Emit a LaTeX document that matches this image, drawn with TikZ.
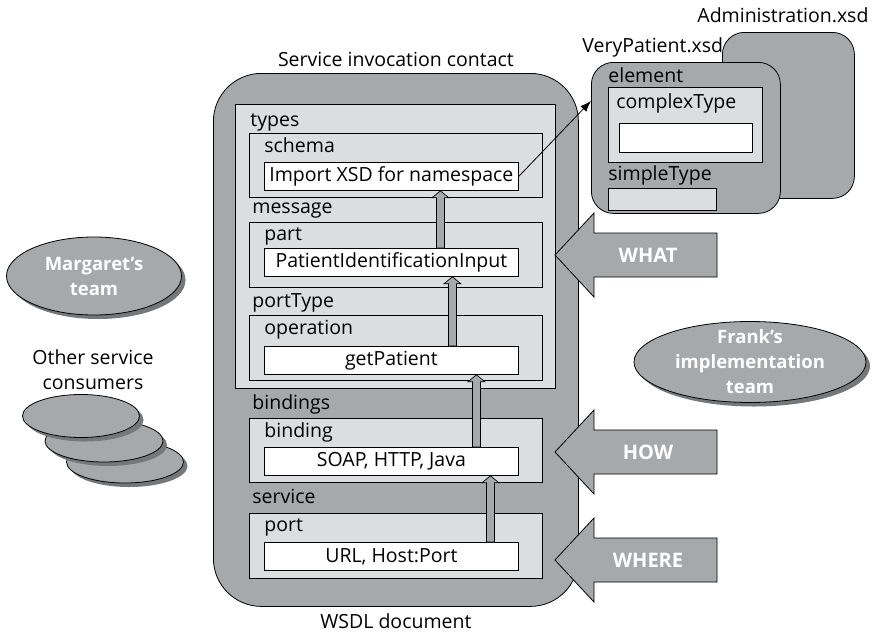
\documentclass[tikz,border=0pt]{standalone}
\usepackage{fontspec}
\setmainfont{Open Sans}
\usetikzlibrary{positioning,shapes.geometric,shadows,calc,arrows.meta}

\definecolor{wsdlgray}{RGB}{167,168,170}
\definecolor{panelgray}{RGB}{220,221,223}
\definecolor{shadegray}{RGB}{118,119,121}

% fat grey arrow going straight up from #1 to #2
\newcommand{\liftarrow}[2]{%
  \path[lift] let \p1=(#1), \p2=(#2) in
    (\x1-4pt,\y1) -- (\x1-4pt,\y2-7pt) -- (\x1-8.5pt,\y2-7pt) -- (\x1,\y2)
    -- (\x1+8.5pt,\y2-7pt) -- (\x1+4pt,\y2-7pt) -- (\x1+4pt,\y1) -- cycle;}

\begin{document}
\begin{tikzpicture}[x=1pt, y=-1pt, font=\fontsize{19.5}{23}\selectfont, line width=0.8pt,
  box/.style={draw, rectangle, anchor=north west, inner sep=0pt},
  panel/.style={box, fill=panelgray},
  slot/.style={box, fill=white, minimum width=254pt, minimum height=28pt},
  tag/.style={inner sep=0pt},
  lift/.style={draw, fill=wsdlgray, line width=0.7pt},
  team/.style={ellipse, draw, fill=wsdlgray, inner sep=0pt,
    drop shadow={shadow xshift=4pt, shadow yshift=-4pt, fill=shadegray, opacity=1}},
  teamtext/.style={align=center, text=white, font=\fontsize{18.5}{25}\selectfont\bfseries},
  bigarrow/.style={draw, fill=wsdlgray},
  bigtext/.style={text=white, font=\fontsize{20}{23}\selectfont\bfseries}]

\useasboundingbox (0,0) rectangle (875,632);

% the WSDL document
\node[box, fill=wsdlgray, rounded corners=48pt, minimum width=365pt, minimum height=533pt] (wsdl) at (213,73) {};
\node[tag, above=7pt of wsdl, anchor=base] (contract) {Service invocation contact};
\node[tag, below=22pt of wsdl, anchor=base] (wsdllbl) {WSDL document};

\node[panel, minimum width=320pt, minimum height=284pt] (types) at (235,104) {};
\node[panel, minimum width=293pt, minimum height=64pt] (schema) at (249,133) {};
\node[panel, minimum width=293pt, minimum height=65pt] (part) at (249,222) {};
\node[panel, minimum width=293pt, minimum height=65pt] (operation) at (249,315) {};
\node[panel, minimum width=293pt, minimum height=64pt] (binding) at (249,418) {};
\node[panel, minimum width=293pt, minimum height=65pt] (port) at (249,513) {};

\node[slot] (import) at (264,162) {Import XSD for namespace};
\node[slot] (patient) at (264,248) {PatientIdentificationInput};
\node[slot] (getpatient) at (264,346) {getPatient};
\node[slot] (soap) at (264,447) {SOAP, HTTP, Java};
\node[slot] (url) at (264,542) {URL, Host:Port};

\node[tag, above right=7pt and 1pt of schema.north west, anchor=base west] (typeslbl) {types};
\node[tag, above right=9pt and 3pt of part.north west, anchor=base west] (messagelbl) {message};
\node[tag, above right=8pt and 3pt of operation.north west, anchor=base west] (porttypelbl) {portType};
\node[tag, above right=9pt and 3pt of binding.north west, anchor=base west] (bindingslbl) {bindings};
\node[tag, above right=10pt and 3pt of port.north west, anchor=base west] (servicelbl) {service};

\node[tag, below right=19pt and 15pt of schema.north west, anchor=base west] (schemalbl) {schema};
\node[tag, below right=18pt and 15pt of part.north west, anchor=base west] (partlbl) {part};
\node[tag, below right=19pt and 15pt of operation.north west, anchor=base west] (operationlbl) {operation};
\node[tag, below right=19pt and 15pt of binding.north west, anchor=base west] (bindinglbl) {binding};
\node[tag, below right=18pt and 15pt of port.north west, anchor=base west] (portlbl) {port};

\liftarrow{[xshift=49pt]patient.north}{[xshift=49pt]import.south}
\liftarrow{[xshift=61pt]getpatient.north}{[xshift=61pt]patient.south}
\liftarrow{[xshift=85pt]soap.north}{[xshift=85pt]getpatient.south}
\liftarrow{[xshift=99pt]url.north}{[xshift=99pt]soap.south}

% the schema files
\node[box, fill=wsdlgray, rounded corners=22pt, minimum width=132pt, minimum height=166pt] (admin) at (722,32) {};
\node[tag, above right=10pt and -25pt of admin.north west, anchor=base west] (adminlbl) {Administration.xsd};
\node[box, fill=wsdlgray, rounded corners=22pt, minimum width=189pt, minimum height=151pt] (vp) at (591,62) {};
\node[tag, above right=10pt and -9pt of vp.north west, anchor=base west] (vplbl) {VeryPatient.xsd};
\node[panel, minimum width=154pt, minimum height=75pt] (complex) at (608,87) {};
\node[box, fill=white, minimum width=133pt, minimum height=29pt] (complexslot) at (619,123) {};
\node[panel, minimum width=108pt, minimum height=22pt] (simple) at (608,188) {};
\node[tag, above right=5pt and 0pt of complex.north west, anchor=base west] (elementlbl) {element};
\node[tag, below right=21pt and 8pt of complex.north west, anchor=base west] (complexlbl) {complexType};
\node[tag, above right=8pt and 0pt of simple.north west, anchor=base west] (simplelbl) {simpleType};

\draw[-{Latex[length=11pt,width=8pt]}] (import.east) -- ([yshift=37pt]vp.west);

% what / how / where
\draw[bigarrow] (555,255) coordinate (whattip) -- ++(39,-42) -- ++(0,20) -- ++(123,0)
  -- ++(0,44) -- ++(-123,0) -- ++(0,20) -- cycle;
\node[bigtext] (what) at ([xshift=93pt]whattip) {WHAT};
\draw[bigarrow] (555,452) coordinate (howtip) -- ++(39,-42) -- ++(0,20) -- ++(123,0)
  -- ++(0,44) -- ++(-123,0) -- ++(0,20) -- cycle;
\node[bigtext] (how) at ([xshift=93pt]howtip) {HOW};
\draw[bigarrow] (555,560) coordinate (wheretip) -- ++(39,-42) -- ++(0,20) -- ++(123,0)
  -- ++(0,44) -- ++(-123,0) -- ++(0,20) -- cycle;
\node[bigtext] (where) at ([xshift=93pt]wheretip) {WHERE};

% the teams
\node[team, minimum width=232pt, minimum height=81pt] (frank) at (750,362) {};
\node[teamtext] (franklbl) at (frank) {Frank's\\implementation\\team};
\node[team, minimum width=175pt, minimum height=78pt] (margaret) at (94,276) {};
\node[teamtext] (margaretlbl) at (margaret) {Margaret's\\team};

\node[team, minimum width=117pt, minimum height=42pt] (consumerC) at (125,462) {};
\node[team, minimum width=118pt, minimum height=42pt] (consumerB) at (104,441) {};
\node[team, minimum width=117pt, minimum height=43pt] (consumerA) at (81,416) {};
\node[align=center, font=\fontsize{19.5}{25}\selectfont] (consumers) at (93,370) {Other service\\consumers};

\end{tikzpicture}
\end{document}
